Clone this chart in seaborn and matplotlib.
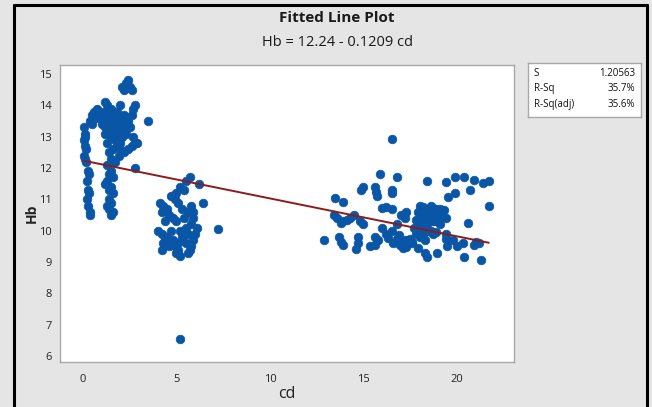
import numpy as np
import pandas as pd
import matplotlib
matplotlib.use("Agg")
import matplotlib.pyplot as plt
from matplotlib.lines import Line2D
import seaborn as sns

# Observations: cd (x) and Hb (y)
cd_low = [0.05, 0.1, 0.05, 0.1, 0.05, 0.1, 0.15, 0.25, 0.3, 0.2, 0.25, 0.3, 0.2, 0.25, 0.35, 0.4, 0.1, 0.15,
          0.4, 0.5, 0.6, 0.75, 0.9, 0.7, 0.5,
          1.2, 1.3, 1.1, 1.4, 1.6, 1.3, 1.5, 1.7, 1.8, 1.2, 1.4, 1.6, 1.9, 2.0, 1.5, 1.7, 1.3, 1.8, 1.6, 2.0,
          1.4, 1.5, 1.7, 1.9, 2.1, 2.2, 1.1, 1.0, 1.8, 2.2, 2.4, 2.0, 1.5,
          1.3, 1.5, 1.4, 1.6, 1.3, 1.5, 1.4, 1.6, 1.4, 1.5, 1.3, 1.4, 1.6, 1.5, 1.2,
          2.1, 2.2, 2.3, 2.4, 2.5, 2.6,
          2.7, 2.8, 2.6, 2.5, 2.3, 2.7, 2.8, 2.6, 2.4, 2.2, 2.8, 3.5, 2.9,
          1.6, 1.9, 2.1, 1.2, 1.7, 2.3, 1.9, 1.4, 1.8, 2.0]
hb_low = [13.3, 13.1, 12.9, 12.7, 12.4, 12.3, 12.2, 11.9, 11.8, 11.6, 11.3, 11.2, 11.0, 10.8, 10.6, 10.5, 13.0, 12.6,
          13.5, 13.7, 13.8, 13.9, 13.8, 13.6, 13.4,
          14.1, 14.0, 13.8, 13.7, 13.6, 13.5, 13.4, 13.5, 13.3, 13.3, 13.2, 13.1, 13.2, 13.4, 13.0, 12.9, 12.8, 12.7, 12.6, 12.8,
          12.5, 12.3, 12.2, 12.4, 13.0, 13.2, 13.6, 13.4, 13.8, 13.7, 13.5, 14.0, 13.9,
          12.1, 11.9, 11.8, 11.7, 11.6, 11.4, 11.3, 11.2, 11.0, 10.9, 10.8, 10.7, 10.6, 10.5, 11.5,
          14.6, 14.5, 14.7, 14.8, 14.6, 14.5,
          13.9, 14.0, 13.7, 13.3, 13.1, 13.0, 12.8, 12.7, 12.6, 12.5, 12.0, 13.5, 12.8,
          13.3, 13.6, 13.5, 13.1, 13.7, 13.4, 12.9, 13.9, 13.0, 12.6]

cd_mid = [4.1, 4.3, 4.5, 4.2, 4.6, 4.4, 4.0, 4.2, 4.5, 4.3, 4.6, 4.2, 4.8, 4.9, 5.0, 5.2, 5.1, 5.3, 5.5, 5.7,
          5.6, 5.9, 6.0, 5.8, 5.5, 5.2, 5.0, 5.4, 5.6, 5.8, 5.3, 5.1, 4.9, 5.0, 5.4, 5.5, 5.2, 4.7, 6.2, 6.4,
          5.9, 6.1, 7.2, 5.2, 5.7, 4.8, 5.6, 5.8, 4.4, 4.7, 5.1, 5.9]
hb_mid = [10.9, 10.8, 10.7, 10.6, 10.5, 10.3, 10.0, 9.9, 9.8, 9.6, 9.5, 9.4, 9.7, 9.5, 9.3, 9.2, 9.6, 9.8, 9.6, 9.4,
          9.3, 9.7, 9.9, 10.2, 10.1, 10.0, 10.3, 10.4, 10.6, 10.8, 10.7, 10.9, 11.0, 11.2, 11.3, 11.6, 11.4, 11.1, 11.5, 10.9,
          10.4, 10.1, 10.05, 6.55, 11.7, 10.4, 9.9, 9.5, 9.7, 10.0, 9.4, 10.6]

cd_high = [16.5, 15.9, 16.8, 18.4, 19.4, 19.9, 20.4, 20.9, 21.4, 21.7,
           15.0, 14.85, 15.6, 15.65, 15.7, 16.5, 16.55, 20.7, 19.9, 19.5,
           13.5, 13.9, 21.7, 16.0, 16.2, 16.5,
           18.0, 18.2, 18.4, 18.6, 18.8, 18.1, 18.3, 18.5, 18.7, 18.0, 18.2, 18.4, 18.6, 18.1, 18.3, 18.5,
           18.9, 19.1, 19.3, 19.0, 19.2, 19.4, 18.8, 19.1,
           13.4, 13.6, 13.9, 14.1, 14.3, 14.5, 14.8, 13.8, 15.0,
           16.5, 16.8, 17.2, 17.3, 17.0, 19.4, 19.4, 20.6,
           12.9, 13.7, 13.8, 13.9, 14.6, 14.7, 14.7, 15.35, 15.6, 15.6,
           16.3, 16.6, 16.95, 17.1, 17.3, 17.6, 17.9, 18.3, 18.4, 18.95,
           19.45, 19.8, 20.3, 20.4, 20.9, 21.2, 21.3,
           18.7, 18.7, 18.3, 18.0, 17.8, 17.5, 17.7, 16.9, 17.4, 16.2, 15.8, 16.0, 20.0, 21.0,
           17.9, 18.1, 18.3, 17.8, 18.0, 18.6, 18.9, 17.6, 17.2, 16.8]
hb_high = [12.92, 11.81, 11.70, 11.60, 11.54, 11.70, 11.70, 11.61, 11.53, 11.59,
           11.41, 11.30, 11.40, 11.25, 11.10, 11.30, 11.20, 11.30, 11.20, 11.09,
           11.03, 10.93, 10.80, 10.72, 10.75, 10.69,
           10.8, 10.75, 10.7, 10.8, 10.7, 10.5, 10.45, 10.5, 10.4, 10.2, 10.25, 10.2, 10.3, 10.0, 9.95, 10.0,
           10.7, 10.7, 10.65, 10.5, 10.45, 10.4, 10.3, 10.2,
           10.5, 10.4, 10.3, 10.35, 10.4, 10.5, 10.3, 10.25, 10.2,
           10.0, 10.2, 10.4, 10.6, 10.5, 9.9, 9.75, 10.25,
           9.70, 9.81, 9.65, 9.55, 9.41, 9.80, 9.60, 9.50, 9.80, 9.55,
           9.76, 9.60, 9.55, 9.44, 9.49, 9.65, 9.44, 9.28, 9.17, 9.28,
           9.51, 9.71, 9.60, 9.17, 9.55, 9.60, 9.07,
           10.3, 9.9, 9.7, 9.8, 9.9, 9.75, 10.1, 9.85, 9.7, 9.9, 9.7, 10.1, 9.5, 9.65,
           10.6, 10.65, 10.6, 10.35, 10.1, 10.0, 9.95, 9.6, 9.7, 9.75]

# Regression fit reported by the analysis
intercept = 12.24
slope = -0.1209
stat_names = ["S", "R-Sq", "R-Sq(adj)"]
stat_values = ["1.20563", "35.7%", "35.6%"]

df = pd.DataFrame({"cd": cd_low + cd_mid + cd_high,
                   "Hb": hb_low + hb_mid + hb_high})
fit_x = np.array([df["cd"].min(), df["cd"].max()])
fit = pd.DataFrame({"cd": fit_x, "Hb": intercept + slope * fit_x})

sns.set_theme(style="white")
plt.rcParams["font.family"] = ["Open Sans", "DejaVu Sans"]

bg = "#e5e5e5"
fig = plt.figure(figsize=(6.52, 4.07), dpi=100, facecolor=bg)
ax = fig.add_axes([60 / 652, 1 - 362 / 407, 454 / 652, 297 / 407])
ax.set_facecolor("white")

sns.scatterplot(data=df, x="cd", y="Hb", ax=ax, s=40, color="#0a56a6",
                edgecolor="#0a56a6", linewidth=0.4, zorder=2)
sns.lineplot(data=fit, x="cd", y="Hb", ax=ax, color="#8e1b1b", linewidth=1.4, zorder=3)

ax.set_xlim(-1.23, 23.05)
ax.set_ylim(5.81, 15.29)
ax.set_xticks([0, 5, 10, 15, 20])
ax.set_yticks(range(6, 16))
ax.tick_params(axis="both", direction="out", length=3, width=0.8, color="#8a8a8a",
               labelsize=8, labelcolor="#222222", pad=3)
ax.tick_params(axis="x", pad=6)
for sp in ax.spines.values():
    sp.set_color("#a8a8a8")
    sp.set_linewidth(1.0)
ax.set_xlabel("cd", fontsize=11.5, color="#222222", labelpad=0)
ax.set_ylabel("Hb", fontsize=10, fontweight="bold", color="#222222", labelpad=0)

fig.text(337 / 652, 1 - 18 / 407, "Fitted Line Plot", ha="center", va="center",
         fontsize=11, fontweight="bold", color="#1a1a1a")
fig.text(337 / 652, 1 - 42 / 407, "Hb = 12.24 - 0.1209 cd", ha="center", va="center",
         fontsize=10.5, color="#1a1a1a")

# Summary statistics box
box = fig.add_axes([528 / 652, 1 - 117 / 407, 113 / 652, 54 / 407])
box.set_facecolor("white")
box.set_xticks([])
box.set_yticks([])
for sp in box.spines.values():
    sp.set_color("#a8a8a8")
    sp.set_linewidth(1.0)
for i, (nm, val) in enumerate(zip(stat_names, stat_values)):
    yy = 0.8 - i * 0.28
    box.text(0.05, yy, nm, ha="left", va="center", fontsize=7, color="#111111",
             transform=box.transAxes)
    box.text(0.95, yy, val, ha="right", va="center", fontsize=7, color="#111111",
             transform=box.transAxes)

# Dark frame around the graph window
fig.add_artist(Line2D([14 / 652, 14 / 652], [0, 1 - 5 / 407], transform=fig.transFigure,
                      color="black", linewidth=2.2))
fig.add_artist(Line2D([14 / 652, 647 / 652], [1 - 5 / 407, 1 - 5 / 407], transform=fig.transFigure,
                      color="black", linewidth=2.2))
fig.add_artist(Line2D([647 / 652, 647 / 652], [0, 1 - 5 / 407], transform=fig.transFigure,
                      color="black", linewidth=2.2))

fig.savefig("out.png", dpi=100, facecolor=bg)
